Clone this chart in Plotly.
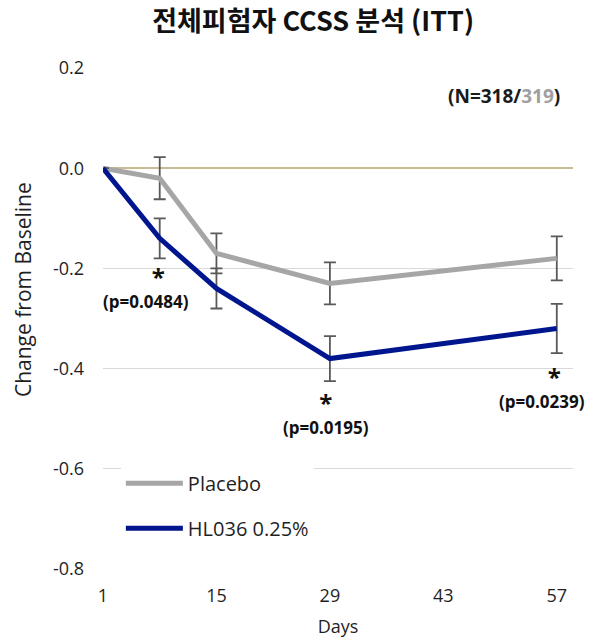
import plotly.graph_objects as go

days = [1, 8, 15, 29, 57]
placebo = [0.0, -0.02, -0.17, -0.23, -0.18]
placebo_err = [0.0, 0.042, 0.04, 0.042, 0.044]
hl036 = [0.0, -0.14, -0.24, -0.38, -0.32]
hl036_err = [0.0, 0.04, 0.04, 0.045, 0.049]
x_ticks = [1, 15, 29, 43, 57]
y_ticks = [0.2, 0.0, -0.2, -0.4, -0.6, -0.8]
y_tick_text = ["0.2", "0.0", "-0.2", "-0.4", "-0.6", "-0.8"]

sig_days = [8, 29, 57]
sig_text = ["(p=0.0484)", "(p=0.0195)", "(p=0.0239)"]

# label placement (layout only)
sig_y = [-0.236, -0.488, -0.436]
sig_dx = [-14, -4, -15]
star_pad = [4, 0, 4]

LAT = "Open Sans, Noto Sans CJK KR, sans-serif"
KR = "Noto Sans CJK KR, Open Sans, sans-serif"
TXT = "#1f1f1f"

fig = go.Figure()
fig.add_trace(go.Scatter(
    x=days, y=placebo, name="Placebo", mode="lines",
    line=dict(color="#A6A6A6", width=5),
    error_y=dict(type="data", array=placebo_err, color="#595959", thickness=1.8, width=6),
    legendgroup="a",
))
fig.add_trace(go.Scatter(
    x=days, y=hl036, name="HL036 0.25%", mode="lines",
    line=dict(color="#00168F", width=5),
    error_y=dict(type="data", array=hl036_err, color="#595959", thickness=1.8, width=6),
    legendgroup="b",
))

for d, t, sy, dx, pad in zip(sig_days, sig_text, sig_y, sig_dx, star_pad):
    label = ("<b><span style='font-size:24px'>" + "&nbsp;" * pad + "*</span><br>"
             + t + "</b>")
    fig.add_annotation(x=d, y=sy, text=label, showarrow=False, xshift=dx,
                       align="center",
                       font=dict(family=LAT, size=17, color="#111111"))

fig.add_annotation(x=0.977, y=0.145, xref="paper", yref="y", xanchor="right",
                   text="<b>(N=318/<span style='color:#A0A0A0'>319</span>)</b>",
                   showarrow=False, font=dict(family=LAT, size=19, color="#1a1a1a"))

# y-axis title (placed as in the reference, slightly above plot centre)
fig.add_annotation(x=-0.170, y=0.557, xref="paper", yref="paper",
                   xanchor="center", yanchor="middle",
                   text="Change from Baseline", textangle=-90, showarrow=False,
                   font=dict(family=LAT, size=21, color=TXT))

fig.update_layout(
    width=592, height=638,
    paper_bgcolor="white", plot_bgcolor="white",
    margin=dict(l=103, r=19, t=68, b=69, autoexpand=False),
    title=dict(text="<b>전체피험자 CCSS 분석 (ITT)</b>", x=0.529, xanchor="center",
               y=0.967, yanchor="middle",
               font=dict(family=KR, size=27, color="#111111")),
    showlegend=True,
    legend=dict(x=0.038, y=0.21, xanchor="left", yanchor="top",
                bgcolor="white", tracegroupgap=16, itemwidth=57,
                font=dict(family=LAT, size=20, color=TXT)),
    font=dict(family=LAT),
)
fig.update_xaxes(range=[1, 59], tickvals=x_ticks, ticktext=[str(v) for v in x_ticks],
                 showgrid=False, zeroline=False, showline=False, ticks="",
                 automargin=False,
                 tickfont=dict(family=LAT, size=18, color=TXT),
                 ticklabelstandoff=14,
                 title=dict(text="Days", font=dict(family=LAT, size=18, color=TXT),
                            standoff=14))
fig.update_yaxes(range=[-0.8, 0.2], tickvals=y_ticks, ticktext=y_tick_text,
                 showgrid=True, gridcolor="#D9D9D9", gridwidth=1,
                 zeroline=True, zerolinecolor="#C9BC93", zerolinewidth=1.5,
                 showline=False, ticks="", automargin=False,
                 tickfont=dict(family=LAT, size=18, color=TXT),
                 ticklabelstandoff=18)

fig.write_html("out.html")
